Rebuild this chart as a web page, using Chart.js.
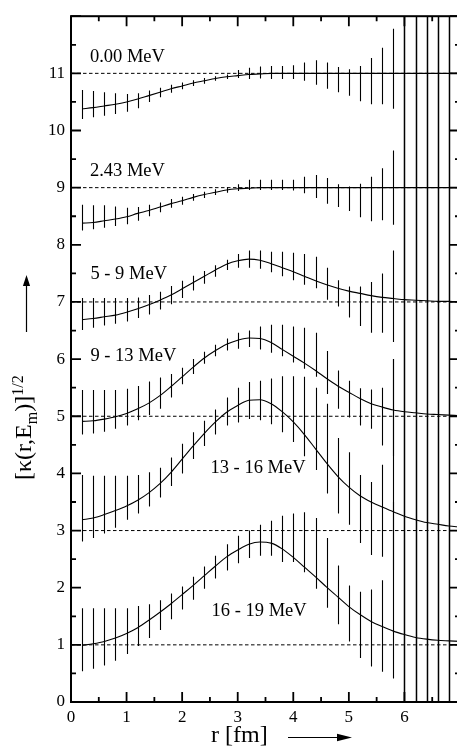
<!DOCTYPE html>
<html>
<head>
<meta charset="utf-8">
<script src="https://cdn.jsdelivr.net/npm/chart.js@4.4.1/dist/chart.umd.min.js"></script>
<style>
  html, body { margin: 0; padding: 0; background: #fff; overflow: hidden; }
  #wrap { width: 457px; height: 747px; overflow: hidden; }
  canvas { display: block; }
</style>
</head>
<body>
<div id="wrap"><canvas id="kappaChart" width="466" height="747"></canvas></div>
<script>
// radial grid of the extracted profiles (fm)
const radius = [
  0.2, 0.4, 0.6, 0.8, 1.0,
  1.2, 1.4, 1.6, 1.8, 2.0,
  2.2, 2.4, 2.6, 2.8, 3.0,
  3.2, 3.4, 3.6, 3.8, 4.0,
  4.2, 4.4, 4.6, 4.8, 5.0,
  5.2, 5.4, 5.6, 5.8, 6.0,
  6.2, 6.4, 6.6, 6.8, 7.0
];

const energyLabels = ['0.00 MeV', '2.43 MeV', '5 - 9 MeV', '9 - 13 MeV', '13 - 16 MeV', '16 - 19 MeV'];
const offsets = [11, 9, 7, 5, 3, 1];

const xTickLabels = ['0', '1', '2', '3', '4', '5', '6'];
const yTickLabels = ['0', '1', '2', '3', '4', '5', '6', '7', '8', '9', '10', '11'];

// curves (already shifted by their offset); error band low / high ends
const kappa000 = [
  10.38, 10.40, 10.43, 10.46, 10.50,
  10.55, 10.61, 10.67, 10.73, 10.78,
  10.83, 10.87, 10.91, 10.94, 10.96,
  10.98, 10.99, 11.00, 11.00, 11.00,
  11.00, 11.00, 11.00, 11.00, 11.00,
  11.00, 11.00, 11.00, 11.00, 11.00,
  11.00, 11.00, 11.00, 11.00, 11.00
];
const low000 = [
  10.20, 10.23, 10.26, 10.29, 10.33,
  10.39, 10.50, 10.58, 10.66, 10.72,
  10.78, 10.82, 10.87, 10.90, 10.92,
  10.90, 10.91, 10.90, 10.90, 10.90,
  10.87, 10.80, 10.73, 10.67, 10.61,
  10.51, 10.46, 10.46, 10.38, -10,
  -10, -10, -10, -10, -10
];
const high000 = [
  10.71, 10.69, 10.67, 10.65, 10.64,
  10.65, 10.70, 10.75, 10.80, 10.84,
  10.88, 10.92, 10.95, 10.98, 11.06,
  11.10, 11.12, 11.13, 11.13, 11.14,
  11.19, 11.23, 11.19, 11.11, 11.07,
  11.13, 11.27, 11.45, 11.78, 22,
  22, 22, 22, 22, 22
];

const kappa243 = [
  8.38, 8.39, 8.42, 8.45, 8.49,
  8.55, 8.60, 8.66, 8.72, 8.77,
  8.83, 8.88, 8.92, 8.96, 8.98,
  8.99, 9.00, 9.00, 9.00, 9.00,
  9.00, 9.00, 9.00, 9.00, 9.00,
  9.00, 9.00, 9.00, 9.00, 9.00,
  9.00, 9.00, 9.00, 9.00, 9.00
];
const low243 = [
  8.25, 8.27, 8.30, 8.33, 8.36,
  8.42, 8.50, 8.57, 8.65, 8.70,
  8.77, 8.82, 8.87, 8.91, 8.94,
  8.96, 8.96, 8.96, 8.96, 8.95,
  8.90, 8.82, 8.72, 8.66, 8.59,
  8.48, 8.41, 8.43, 8.35, -10,
  -10, -10, -10, -10, -10
];
const high243 = [
  8.70, 8.69, 8.69, 8.67, 8.65,
  8.66, 8.70, 8.74, 8.80, 8.84,
  8.89, 8.93, 8.97, 9.01, 9.06,
  9.14, 9.14, 9.14, 9.14, 9.14,
  9.19, 9.22, 9.17, 9.06, 9.02,
  9.07, 9.19, 9.34, 9.65, 22,
  22, 22, 22, 22, 22
];

const kappa5to9 = [
  6.69, 6.71, 6.74, 6.77, 6.82,
  6.88, 6.95, 7.03, 7.12, 7.23,
  7.34, 7.45, 7.56, 7.66, 7.72,
  7.75, 7.73, 7.67, 7.60, 7.53,
  7.45, 7.37, 7.30, 7.24, 7.19,
  7.15, 7.11, 7.08, 7.06, 7.04,
  7.03, 7.02, 7.01, 7.01, 7.00
];
const low5to9 = [
  6.51, 6.55, 6.59, 6.62, 6.66,
  6.72, 6.78, 6.87, 6.96, 7.07,
  7.20, 7.32, 7.44, 7.56, 7.60,
  7.60, 7.58, 7.52, 7.45, 7.38,
  7.30, 7.24, 7.04, 6.92, 6.73,
  6.58, 6.46, 6.46, 6.30, -10,
  -10, -10, -10, -10, -10
];
const high5to9 = [
  7.07, 7.07, 7.07, 7.07, 7.07,
  7.08, 7.12, 7.18, 7.28, 7.37,
  7.46, 7.54, 7.64, 7.74, 7.84,
  7.90, 7.90, 7.88, 7.88, 7.86,
  7.84, 7.79, 7.60, 7.38, 7.27,
  7.27, 7.35, 7.50, 7.90, 22,
  22, 22, 22, 22, 22
];

const kappa9to13 = [
  4.91, 4.92, 4.95, 4.99, 5.05,
  5.13, 5.23, 5.36, 5.52, 5.69,
  5.86, 6.02, 6.15, 6.26, 6.33,
  6.37, 6.36, 6.29, 6.17, 6.05,
  5.93, 5.80, 5.66, 5.53, 5.42,
  5.31, 5.22, 5.16, 5.11, 5.08,
  5.06, 5.04, 5.03, 5.02, 5.01
];
const low9to13 = [
  4.68, 4.70, 4.73, 4.78, 4.84,
  4.93, 5.02, 5.13, 5.33, 5.56,
  5.74, 5.92, 6.05, 6.15, 6.18,
  6.21, 6.17, 6.11, 6.05, 5.94,
  5.83, 5.69, 5.39, 5.13, 4.98,
  4.84, 4.78, 4.49, 4.30, -10,
  -10, -10, -10, -10, -10
];
const high9to13 = [
  5.46, 5.46, 5.46, 5.46, 5.48,
  5.53, 5.61, 5.68, 5.74, 5.85,
  6.00, 6.13, 6.25, 6.36, 6.46,
  6.50, 6.57, 6.60, 6.60, 6.57,
  6.55, 6.46, 6.14, 5.80, 5.62,
  5.49, 5.47, 5.50, 6.00, 22,
  22, 22, 22, 22, 22
];

const kappa13to16 = [
  3.19, 3.22, 3.28, 3.35, 3.43,
  3.53, 3.66, 3.82, 4.02, 4.25,
  4.48, 4.70, 4.90, 5.07, 5.19,
  5.28, 5.29, 5.22, 5.08, 4.90,
  4.68, 4.43, 4.18, 3.95, 3.76,
  3.61, 3.50, 3.41, 3.33, 3.25,
  3.19, 3.14, 3.11, 3.08, 3.06
];
const low13to16 = [
  2.81, 2.87, 2.95, 3.05, 3.19,
  3.30, 3.42, 3.58, 3.78, 4.00,
  4.25, 4.48, 4.68, 4.84, 4.89,
  4.95, 4.93, 4.86, 4.72, 4.55,
  4.30, 4.06, 3.65, 3.30, 3.10,
  2.78, 2.57, 2.54, 2.30, -10,
  -10, -10, -10, -10, -10
];
const high13to16 = [
  3.97, 3.96, 3.96, 3.96, 3.96,
  3.97, 4.02, 4.10, 4.28, 4.52,
  4.72, 4.92, 5.12, 5.33, 5.50,
  5.60, 5.62, 5.66, 5.70, 5.70,
  5.69, 5.50, 5.22, 4.62, 4.37,
  3.97, 3.85, 4.15, 6.00, 22,
  22, 22, 22, 22, 22
];

const kappa16to19 = [
  0.99, 1.02, 1.06, 1.12, 1.20,
  1.30, 1.43, 1.57, 1.72, 1.88,
  2.04, 2.21, 2.38, 2.54, 2.66,
  2.76, 2.80, 2.78, 2.68, 2.53,
  2.36, 2.19, 2.01, 1.84, 1.67,
  1.53, 1.41, 1.32, 1.24, 1.18,
  1.13, 1.10, 1.08, 1.07, 1.06
];
const low16to19 = [
  0.54, 0.58, 0.64, 0.72, 0.84,
  0.98, 1.12, 1.26, 1.45, 1.62,
  1.79, 1.98, 2.16, 2.30, 2.43,
  2.52, 2.56, 2.56, 2.45, 2.45,
  2.27, 1.98, 1.65, 1.36, 1.06,
  0.77, 0.62, 0.53, 0.41, -10,
  -10, -10, -10, -10, -10
];
const high16to19 = [
  1.64, 1.64, 1.64, 1.64, 1.64,
  1.68, 1.71, 1.78, 1.90, 2.02,
  2.19, 2.37, 2.56, 2.76, 2.91,
  3.00, 3.10, 3.17, 3.26, 3.30,
  3.32, 3.22, 2.87, 2.39, 2.04,
  1.93, 1.97, 2.13, 3.50, 22,
  22, 22, 22, 22, 22
];

const series = [
  { y: kappa000, low: low000, high: high000 },
  { y: kappa243, low: low243, high: high243 },
  { y: kappa5to9, low: low5to9, high: high5to9 },
  { y: kappa9to13, low: low9to13, high: high9to13 },
  { y: kappa13to16, low: low13to16, high: high13to16 },
  { y: kappa16to19, low: low16to19, high: high16to19 }
];

// where the energy labels sit, in data units (left edge, baseline)
const labelSpots = [[0.34, 11.20], [0.34, 9.20], [0.35, 7.40], [0.35, 5.97], [2.51, 4.00], [2.53, 1.51]];

const serif = "'Liberation Serif', 'Times New Roman', serif";

const datasets = [];
offsets.forEach(off => {
  datasets.push({
    data: [{ x: 0, y: off }, { x: 7, y: off }],
    borderColor: '#000', borderWidth: 1, borderDash: [3.5, 2.5],
    pointRadius: 0, fill: false
  });
});
series.forEach(s => {
  datasets.push({
    data: radius.map((r, i) => ({ x: r, y: s.y[i] })),
    borderColor: '#000', borderWidth: 1.1,
    pointRadius: 0, fill: false, cubicInterpolationMode: 'monotone'
  });
});

const errorBars = {
  id: 'errorBars',
  afterDatasetsDraw(chart) {
    const { ctx, chartArea: a, scales: { x, y } } = chart;
    ctx.save();
    ctx.beginPath();
    ctx.rect(a.left, a.top, a.right - a.left, a.bottom - a.top);
    ctx.clip();
    ctx.strokeStyle = '#000';
    ctx.lineWidth = 1.1;
    series.forEach(s => {
      radius.forEach((r, i) => {
        // snap to the pixel grid so that overlapping bars stay thin
        const px = Math.round(x.getPixelForValue(r)) + 0.5;
        ctx.beginPath();
        ctx.moveTo(px, y.getPixelForValue(s.low[i]));
        ctx.lineTo(px, y.getPixelForValue(s.high[i]));
        ctx.stroke();
      });
    });
    ctx.restore();
  }
};

const frameAndText = {
  id: 'frameAndText',
  afterDraw(chart) {
    const { ctx, chartArea: a, scales: { x, y } } = chart;
    ctx.save();
    ctx.strokeStyle = '#000';
    ctx.fillStyle = '#000';

    // inward ticks on all four sides
    ctx.lineWidth = 1.8;
    for (let v = 0; v <= 7; v += 0.5) {
      const len = Number.isInteger(v) ? 10 : 5;
      const px = x.getPixelForValue(v);
      ctx.beginPath();
      ctx.moveTo(px, a.bottom); ctx.lineTo(px, a.bottom - len);
      ctx.moveTo(px, a.top); ctx.lineTo(px, a.top + len);
      ctx.stroke();
    }
    for (let v = 0; v <= 12; v += 0.5) {
      const len = Number.isInteger(v) ? 10 : 5;
      const py = y.getPixelForValue(v);
      ctx.beginPath();
      ctx.moveTo(a.left, py); ctx.lineTo(a.left + len, py);
      ctx.moveTo(a.right, py); ctx.lineTo(a.right - len, py);
      ctx.stroke();
    }
    ctx.lineWidth = 2;
    ctx.strokeRect(a.left, a.top, a.right - a.left, a.bottom - a.top);

    // energy labels
    ctx.font = '18.5px ' + serif;
    ctx.textBaseline = 'alphabetic';
    ctx.textAlign = 'left';
    energyLabels.forEach((t, i) => {
      ctx.fillText(t, x.getPixelForValue(labelSpots[i][0]), y.getPixelForValue(labelSpots[i][1]));
    });

    // x title with arrow
    ctx.font = '24px ' + serif;
    ctx.fillText('r [fm]', a.left + 140, a.bottom + 40);
    const ay = a.bottom + 35.5;
    ctx.lineWidth = 1.2;
    ctx.beginPath();
    ctx.moveTo(a.left + 217, ay); ctx.lineTo(a.left + 268, ay);
    ctx.stroke();
    ctx.beginPath();
    ctx.moveTo(a.left + 281, ay); ctx.lineTo(a.left + 266, ay - 3.8); ctx.lineTo(a.left + 266, ay + 3.8);
    ctx.closePath(); ctx.fill();

    // y title, rotated, with arrow above
    ctx.save();
    ctx.translate(31, 480);
    ctx.rotate(-Math.PI / 2);
    let cx = 0;
    [['[\u03ba(r,E', 24, 0], ['m', 16, 6], [')]', 24, 0], ['1/2', 16, -8]].forEach(([t, size, dy]) => {
      ctx.font = size + 'px ' + serif;
      ctx.fillText(t, cx, dy);
      cx += ctx.measureText(t).width;
    });
    ctx.restore();
    const axX = 26.5;
    ctx.beginPath();
    ctx.moveTo(axX, 332); ctx.lineTo(axX, 284);
    ctx.stroke();
    ctx.beginPath();
    ctx.moveTo(axX, 275); ctx.lineTo(axX - 3.6, 286); ctx.lineTo(axX + 3.6, 286);
    ctx.closePath(); ctx.fill();

    ctx.restore();
  }
};

new Chart(document.getElementById('kappaChart'), {
  type: 'line',
  data: { datasets },
  options: {
    responsive: false,
    devicePixelRatio: 1,
    animation: false,
    layout: { padding: { top: 11, right: 6, left: 0, bottom: 0 } },
    plugins: { legend: { display: false }, tooltip: { enabled: false } },
    scales: {
      x: {
        type: 'linear', min: 0, max: 7,
        grid: { display: false, drawTicks: false },
        border: { display: false },
        ticks: {
          stepSize: 1, padding: 5, color: '#000', maxRotation: 0,
          font: { family: serif, size: 17 },
          callback: v => (xTickLabels.includes(String(v)) ? String(v) : '')
        },
        afterFit: s => { s.height = 45; }
      },
      y: {
        type: 'linear', min: 0, max: 12,
        grid: { display: false, drawTicks: false },
        border: { display: false },
        ticks: {
          stepSize: 1, padding: 6, color: '#000',
          font: { family: serif, size: 17 },
          callback: v => (yTickLabels.includes(String(v)) ? String(v) : '')
        },
        afterFit: s => { s.width = 71; }
      }
    }
  },
  plugins: [errorBars, frameAndText]
});
</script>
</body>
</html>
